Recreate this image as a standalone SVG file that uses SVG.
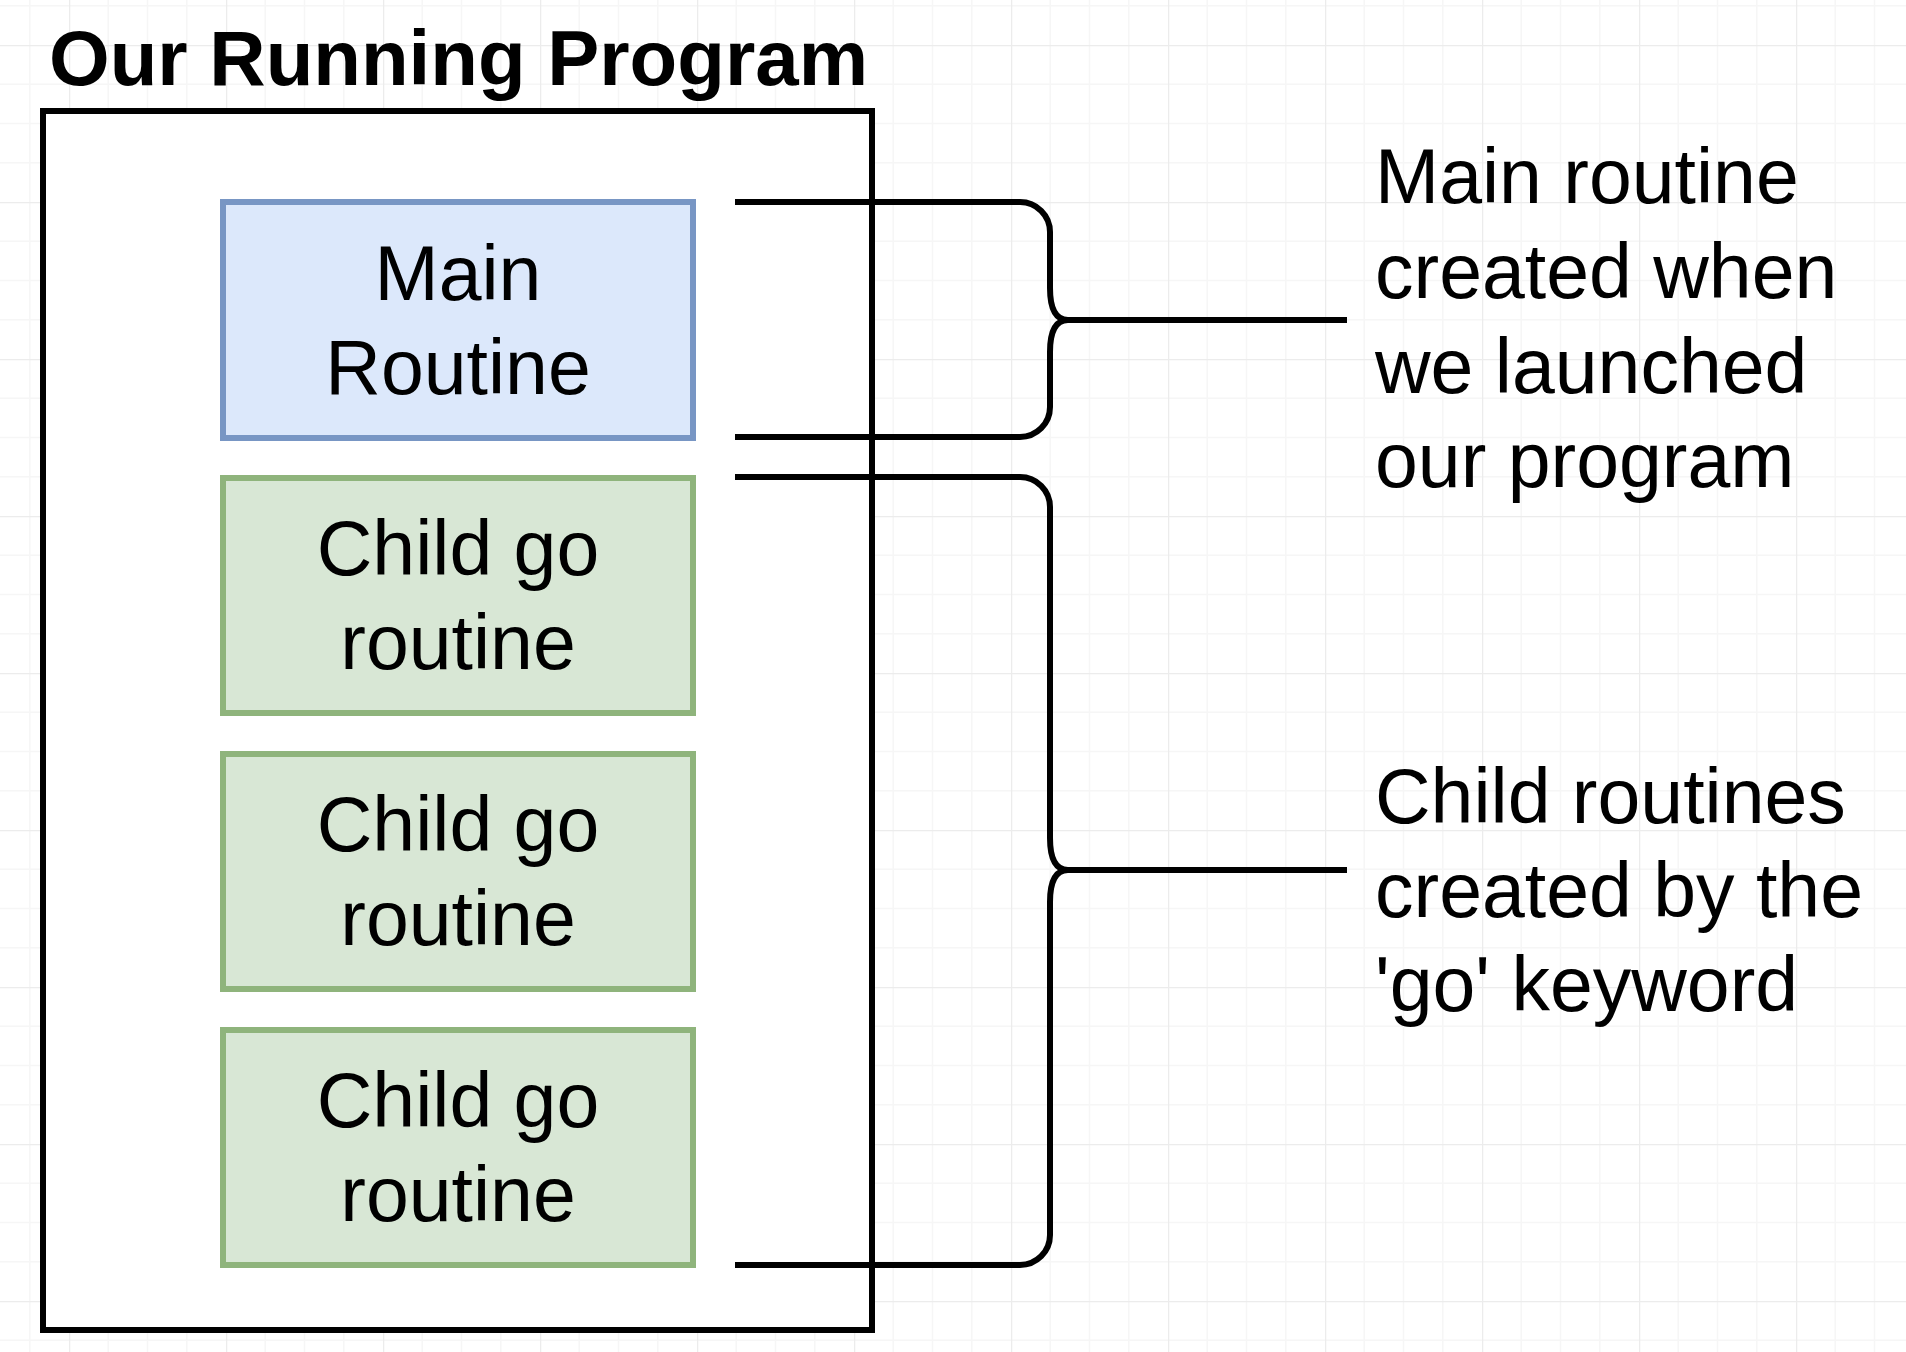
<svg xmlns="http://www.w3.org/2000/svg" width="1906" height="1352" viewBox="0 0 1906 1352">
<style>
.t{font-family:"Liberation Sans",Arial,Helvetica,sans-serif;font-size:77px;fill:#000}
.c{text-anchor:middle}
.title{font-family:"Liberation Sans",Arial,Helvetica,sans-serif;font-size:78px;font-weight:bold;fill:#000}
.main{fill:#dce8fb;stroke:#7896c4;stroke-width:6}
.child{fill:#d8e7d5;stroke:#8fb47c;stroke-width:6}
.brace{fill:none;stroke:#000;stroke-width:6;stroke-linejoin:round}
</style>
<defs>
<pattern id="grid" patternUnits="userSpaceOnUse" x="69" y="45" width="157" height="157">
<path d="M39.25,0V157M78.5,0V157M117.75,0V157M0,39.25H157M0,78.5H157M0,117.75H157" fill="none" stroke="#f6f6f6" stroke-width="1.5"/>
<path d="M0.5,0V157M0,0.5H157" fill="none" stroke="#ececec" stroke-width="1.5"/>
</pattern>
</defs>
<rect width="1906" height="1352" fill="#ffffff"/>
<rect width="1906" height="1352" fill="url(#grid)"/>
<g id="program">
<rect x="43" y="111" width="829" height="1219" fill="#ffffff" stroke="#000" stroke-width="6"/>
<text class="title" x="49" y="85">Our Running Program</text>
</g>
<g id="main-routine">
<rect class="main" x="223" y="202" width="470" height="236"/>
<text class="t c" x="458" y="300">Main</text>
<text class="t c" x="458" y="394">Routine</text>
</g>
<g id="child-1">
<rect class="child" x="223" y="478" width="470" height="235"/>
<text class="t c" x="458" y="575">Child go</text>
<text class="t c" x="458" y="669">routine</text>
</g>
<g id="child-2">
<rect class="child" x="223" y="754" width="470" height="235"/>
<text class="t c" x="458" y="851">Child go</text>
<text class="t c" x="458" y="945">routine</text>
</g>
<g id="child-3">
<rect class="child" x="223" y="1030" width="470" height="235"/>
<text class="t c" x="458" y="1127">Child go</text>
<text class="t c" x="458" y="1221">routine</text>
</g>
<g id="connectors">
<path class="brace" d="M735,202 H1020 A30,30 0 0 1 1050,232 V288 Q1050,320 1068,320 Q1050,320 1050,352 V407 A30,30 0 0 1 1020,437 H735 M1068,320 H1347"/>
<path class="brace" d="M735,477 H1020 A30,30 0 0 1 1050,507 V838 Q1050,870 1068,870 Q1050,870 1050,902 V1235 A30,30 0 0 1 1020,1265 H735 M1068,870 H1347"/>
</g>
<g id="main-note">
<text class="t" x="1375" y="203">Main routine</text>
<text class="t" x="1375" y="298">created when</text>
<text class="t" x="1375" y="393">we launched</text>
<text class="t" x="1375" y="487">our program</text>
</g>
<g id="child-note">
<text class="t" x="1375" y="823">Child routines</text>
<text class="t" x="1375" y="917">created by the</text>
<text class="t" x="1375" y="1011">'go' keyword</text>
</g>
</svg>
